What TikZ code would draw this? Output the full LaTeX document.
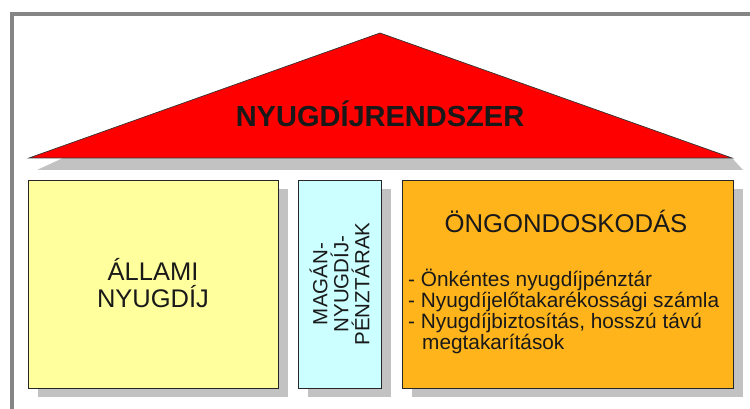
\documentclass[tikz,border=0pt]{standalone}
\usepackage{fontspec}
\setmainfont{Liberation Sans}
\usepackage{xcolor}
\usepackage{tikz}
\usetikzlibrary{shapes, shadows, positioning}
\definecolor{framegray}{HTML}{858585}
\definecolor{shadowgray}{HTML}{C2C2C2}
\definecolor{roofred}{HTML}{FF0000}
\definecolor{stateyellow}{HTML}{FFFF9E}
\definecolor{privatecyan}{HTML}{CCFFFF}
\definecolor{selforange}{HTML}{FFB41C}
\tikzset{
  roofshape/.style={draw=black!80, fill=roofred, line width=0.7pt, line join=miter},
  rooftext/.style={font=\fontsize{29}{32}\selectfont\bfseries, text=black!90, inner sep=0pt},
  pillarnode/.style={draw=black!85, line width=0.8pt, rectangle, inner sep=0pt, minimum height=208pt,
    drop shadow={shadow xshift=10pt, shadow yshift=-9pt, fill=shadowgray, opacity=1}},
  statenode/.style={pillarnode, fill=stateyellow, minimum width=250pt},
  privatenode/.style={pillarnode, fill=privatecyan, minimum width=83pt},
  selfnode/.style={pillarnode, fill=selforange, minimum width=331pt},
  bigtext/.style={font=\fontsize{25.5}{27}\selectfont, text=black!90, align=center, inner sep=0pt},
  sidetext/.style={font=\fontsize{20.5}{21}\selectfont, text=black!90, align=center, inner sep=0pt, rotate=90},
  headtext/.style={font=\fontsize{25.7}{28}\selectfont, text=black!90, inner sep=0pt},
  listtext/.style={font=\fontsize{20.8}{21}\selectfont, text=black!90, align=left, inner sep=0pt}
}

\begin{document}
\begin{tikzpicture}[x=1pt, y=-1pt]
\useasboundingbox (0,0) rectangle (750,409);

% Frame
\draw[framegray, line width=4pt] (11.5,409) -- (11.5,14.5) -- (750,14.5);

% Roof
\fill[shadowgray] (37,170) -- (63,158) -- (732,158) -- (743,170) -- cycle;
\draw[roofshape] (29,158) -- (380,33) -- (732,158) -- cycle;
\node[rooftext, anchor=base] (roof) at (380,127) {NYUGDÍJRENDSZER};

% Pillars
\node[statenode] (state) at (153,284) {};
\node[privatenode] (private) at (339.5,284) {};
\node[selfnode] (self) at (567.5,284) {};

% Labels
\node[bigtext] (statelabel) at (153,283) {ÁLLAMI\\NYUGDÍJ};
\node[sidetext] (privatelabel) at (private.center) {MAGÁN-\\NYUGDÍJ-\\PÉNZTÁRAK};
\node[headtext, anchor=base] (selfhead) at (566,233) {ÖNGONDOSKODÁS};
\node[listtext, anchor=north west] (selflist) at (408,268.5)
  {- Önkéntes nyugdíjpénztár\\- Nyugdíjelőtakarékossági számla\\- Nyugdíjbiztosítás, hosszú távú\\\hspace*{14pt}megtakarítások};

\end{tikzpicture}
\end{document}
